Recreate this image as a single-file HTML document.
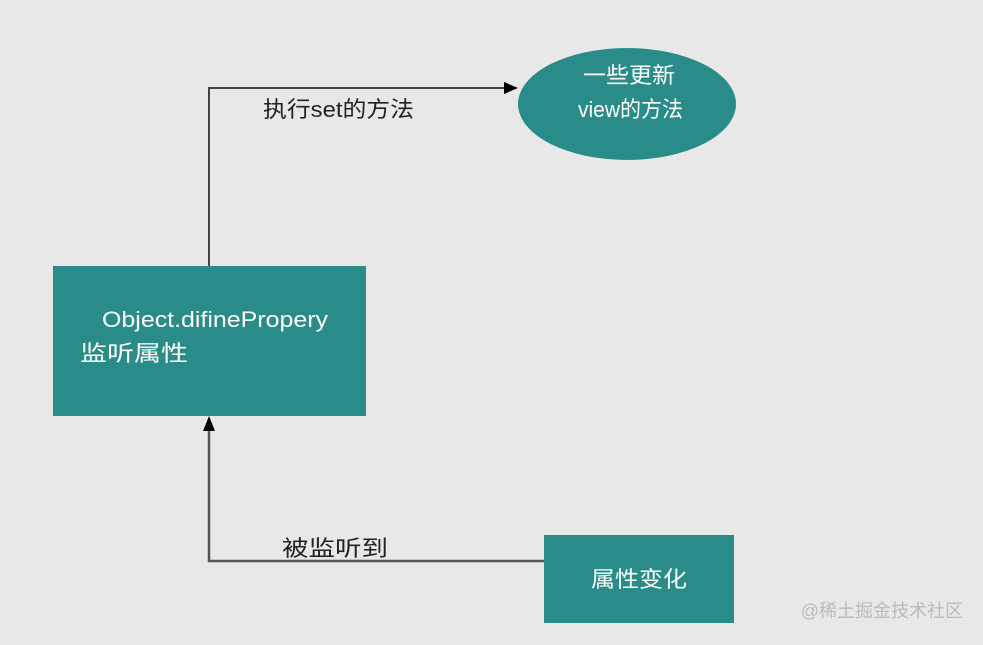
<!DOCTYPE html>
<html><head><meta charset="utf-8"><style>
body{margin:0;width:983px;height:640px;background:#e8e8e8;overflow:hidden}
svg text{font-family:"Liberation Sans","Noto Sans CJK SC",sans-serif}
</style></head><body>
<svg width="983" height="640" viewBox="0 0 983 640">
<rect x="53" y="266" width="313" height="150" fill="#2a8c89"/>
<ellipse cx="627" cy="104" rx="109" ry="56" fill="#2a8c89"/>
<rect x="544" y="535" width="190" height="88" fill="#2a8c89"/>
<polyline points="209,266 209,88 506,88" fill="none" stroke="#444" stroke-width="2"/>
<polygon points="518,88 504,82 504,94" fill="#000"/>
<polyline points="544,561 209,561 209,428" fill="none" stroke="#555" stroke-width="2.5"/>
<polygon points="209,416 203,431 215,431" fill="#000"/>
<text x="263" y="117" font-size="22" fill="#222" textLength="151" lengthAdjust="spacingAndGlyphs">执行set的方法</text>
<text x="583" y="83" font-size="22" fill="#fff" textLength="92" lengthAdjust="spacingAndGlyphs">一些更新</text>
<text x="578" y="117" font-size="22" fill="#fff" textLength="105" lengthAdjust="spacingAndGlyphs">view的方法</text>
<text x="102" y="327" font-size="22" fill="#fff" textLength="226" lengthAdjust="spacingAndGlyphs">Object.difinePropery</text>
<text x="80" y="361" font-size="22" fill="#fff" textLength="108" lengthAdjust="spacingAndGlyphs">监听属性</text>
<text x="282" y="556" font-size="22" fill="#222" textLength="106" lengthAdjust="spacingAndGlyphs">被监听到</text>
<text x="591" y="587" font-size="22" fill="#fff" textLength="96" lengthAdjust="spacingAndGlyphs">属性变化</text>
<text x="963" y="617" font-size="18" fill="#bbb" text-anchor="end">@稀土掘金技术社区</text>
</svg>
</body></html>
